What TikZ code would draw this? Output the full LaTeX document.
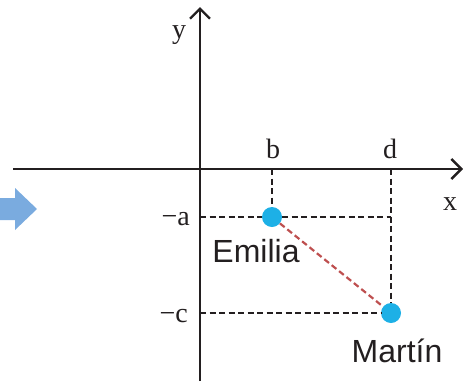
\documentclass[tikz,border=0pt]{standalone}
\usepackage{fontspec}
\setmainfont{Liberation Serif}
\setsansfont{Liberation Sans}
\usetikzlibrary{arrows.meta}
\definecolor{azul}{HTML}{7AABDF}
\definecolor{ciano}{HTML}{1DB0E6}
\definecolor{vermelho}{HTML}{BE4F4F}
\definecolor{preto}{HTML}{231F20}

\begin{document}
\begin{tikzpicture}[x=1pt, y=-1pt,
  eixo/.style={draw=preto, line width=2.4pt, -{Straight Barb[length=10pt, width=20pt]}},
  guia/.style={draw=preto, line width=2pt, dash pattern=on 6pt off 3.5pt},
  liga/.style={draw=vermelho, line width=2.2pt, dash pattern=on 6pt off 3.5pt},
  ponto/.style={circle, fill=ciano, inner sep=0pt, minimum size=20pt},
  rot/.style={font=\fontsize{28}{28}\selectfont, text=preto, inner sep=0pt},
  nome/.style={font=\sffamily\fontsize{32}{32}\selectfont, text=preto, inner sep=0pt}]
  \useasboundingbox (0,0) rectangle (463,381);
  % seta azul
  \fill[azul] (0,198) -- (15,198) -- (15,188) -- (37,209) -- (15,230) -- (15,220) -- (0,220) -- cycle;
  % eixos
  \coordinate (xi) at (13,169);
  \coordinate (xf) at (463,169);
  \coordinate (yi) at (200,381);
  \coordinate (yf) at (200,7);
  \draw[eixo] (xi) -- (xf);
  \draw[eixo] (yi) -- (yf);
  % marcas nos eixos
  \coordinate (b) at (272,169);
  \coordinate (d) at (391,169);
  \coordinate (a) at (200,217);
  \coordinate (c) at (200,313);
  \node[ponto] (emilia) at (272,217) {};
  \node[ponto] (martin) at (391,313) {};
  \draw[guia] (b) -- (emilia);
  \draw[guia] (a) -- (emilia);
  \draw[guia] (emilia) -- (d |- emilia);
  \draw[guia] (d) -- (martin);
  \draw[guia] (c) -- (martin);
  \draw[liga] (emilia) -- (martin);
  % rotulos
  \node[rot, anchor=base] (lb) at (273,158) {b};
  \node[rot, anchor=base] (ld) at (390,158) {d};
  \node[rot, anchor=base] (lx) at (450,210) {x};
  \node[rot, anchor=base] (ly) at (179,38) {y};
  \node[rot, anchor=base east] (la) at (190,225) {−a};
  \node[rot, anchor=base east] (lc) at (188,322) {−c};
  \node[nome, anchor=base] (nemilia) at (256,262) {Emilia};
  \node[nome, anchor=base] (nmartin) at (397,362) {Martín};
\end{tikzpicture}
\end{document}
